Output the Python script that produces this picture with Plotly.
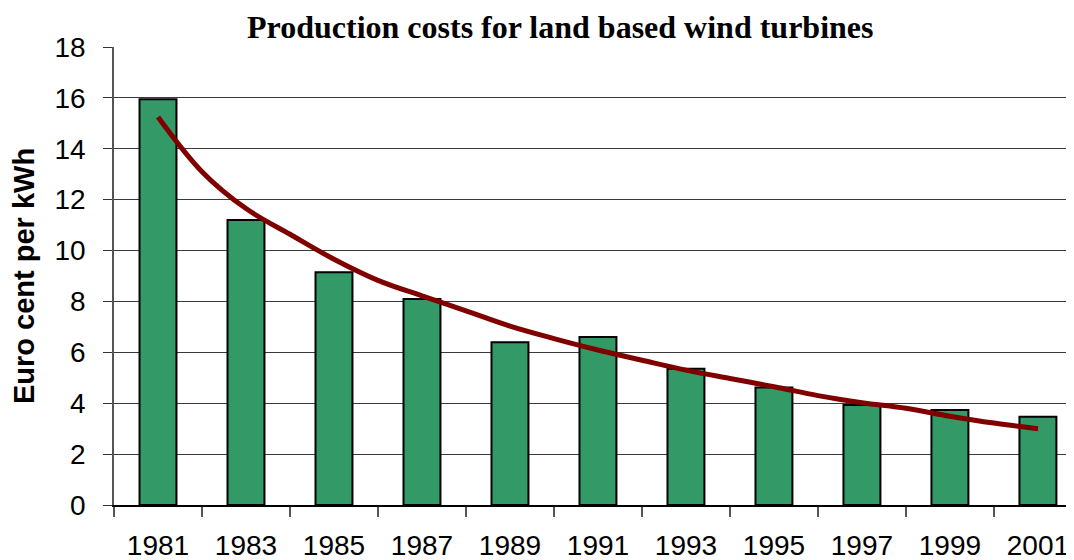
import plotly.graph_objects as go

# ---- data ----
years = [1981, 1983, 1985, 1987, 1989, 1991, 1993, 1995, 1997, 1999, 2001]
costs = [15.95, 11.2, 9.15, 8.1, 6.4, 6.6, 5.35, 4.62, 3.93, 3.73, 3.47]

trend_years = [1981, 1982, 1983, 1984, 1985, 1986, 1987, 1988, 1989, 1990, 1991,
               1992, 1993, 1994, 1995, 1996, 1997, 1998, 1999, 2000, 2001]
trend_vals = [15.25, 13.1, 11.65, 10.64, 9.66, 8.83, 8.22, 7.63, 7.03, 6.54, 6.09,
              5.69, 5.30, 4.97, 4.65, 4.30, 4.02, 3.80, 3.49, 3.22, 3.0]

boundary_years = [1980, 1982, 1984, 1986, 1988, 1990, 1992, 1994, 1996, 1998, 2000]
y_ticks = [0, 2, 4, 6, 8, 10, 12, 14, 16, 18]

title_text = "Production costs for land based wind turbines"
y_title = "Euro cent per kWh"

fig = go.Figure()
fig.add_trace(go.Bar(
    x=years, y=costs, width=0.84,
    marker=dict(color="#339966", line=dict(color="black", width=2)),
    showlegend=False,
))
fig.add_trace(go.Scatter(
    x=trend_years, y=trend_vals, mode="lines",
    line=dict(color="#800000", width=5, shape="spline"),
    showlegend=False,
))

# page body has an 8px default margin, so the figure is sized/offset to fit the window
fig.update_layout(
    width=1066, height=552,
    margin=dict(l=106, r=0, t=39, b=55),
    paper_bgcolor="white", plot_bgcolor="white",
    font=dict(family="Liberation Sans, Arial, sans-serif", color="black"),
    annotations=[dict(
        text="<b>" + title_text + "</b>", xref="paper", yref="paper",
        x=0.4646, y=1, yshift=20, xanchor="center", yanchor="middle",
        showarrow=False,
        font=dict(family="Liberation Serif, Times New Roman, serif", size=32, color="black"),
    )],
)

fig.update_xaxes(
    range=[1980, 2001.82], automargin=False,
    tickmode="array", tickvals=years, ticktext=[str(y) for y in years],
    ticks="", ticklabelstandoff=15,
    tickfont=dict(size=28),
    showgrid=False, zeroline=False,
    showline=True, linecolor="black", linewidth=1.5,
    minor=dict(tickmode="array", tickvals=boundary_years, ticks="outside",
               ticklen=10, tickcolor="#555555", tickwidth=1.5, showgrid=False),
)
fig.update_yaxes(
    range=[0, 18], automargin=False,
    tickmode="array", tickvals=y_ticks,
    ticks="outside", ticklen=9, tickcolor="#333333", tickwidth=1.2,
    ticklabelstandoff=12,
    tickfont=dict(size=28),
    showgrid=True, gridcolor="#3a3a3a", gridwidth=1.2,
    zeroline=False,
    showline=True, linecolor="#555555", linewidth=1.5,
    title=dict(text="<b>" + y_title + "</b>", font=dict(size=29), standoff=20),
)

fig.write_html("out.html")
